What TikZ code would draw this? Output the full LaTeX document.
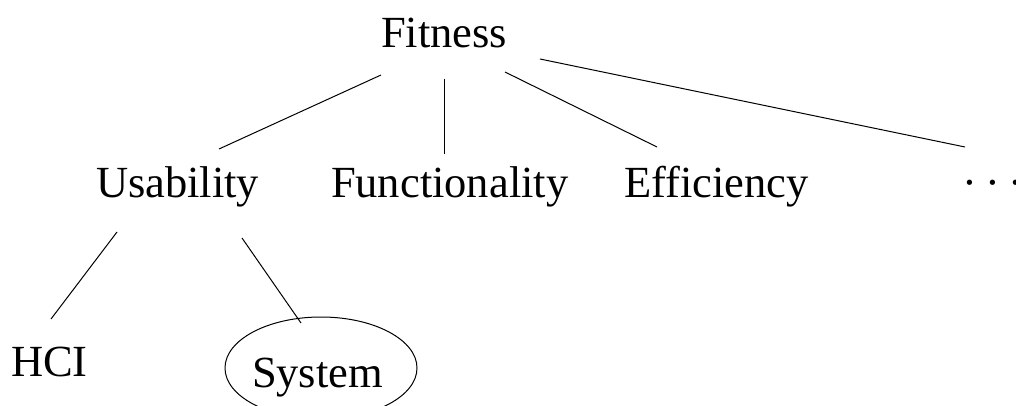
\documentclass[tikz,border=0pt]{standalone}
\usepackage{fontspec}
\setmainfont{Liberation Serif}
\begin{document}
\begin{tikzpicture}[x=1pt,y=-1pt,
    lbl/.style={inner sep=0pt,outer sep=0pt,anchor=base west,
      font=\fontsize{44.5}{53}\selectfont},
    branch/.style={line width=1pt,black}]
  \useasboundingbox (0,0) rectangle (1016,406);

  % tree labels
  \node[lbl] (fit)  at (381,48)  {Fitness};
  \node[lbl] (usa)  at (96,197)  {Usability};
  \node[lbl] (fun)  at (331,197) {Functionality};
  \node[lbl] (eff)  at (624,197) {Efficiency};
  \node[lbl] (more) at (962.5,197)
    {\rlap{·}\hspace{23pt}\rlap{·}\hspace{23pt}·};
  \node[lbl] (hci)  at (11,376)  {HCI};
  \node[lbl] (sys)  at (252,387) {System};

  % ring around the System label
  \draw[branch] (321,368) ellipse [x radius=96, y radius=51];

  % line end points
  \coordinate (fitA) at (381,75);  \coordinate (usaT) at (219,149);
  \coordinate (fitB) at (444,79);  \coordinate (funT) at (444,154);
  \coordinate (fitC) at (505,72);  \coordinate (effT) at (657,147);
  \coordinate (fitD) at (540,59);  \coordinate (moreT) at (965,147);
  \coordinate (usaA) at (117,232); \coordinate (hciT) at (51,319);
  \coordinate (usaB) at (242,238); \coordinate (sysT) at (301,323);

  \draw[branch] (fitA) -- (usaT);
  \draw[branch] (fitB) -- (funT);
  \draw[branch] (fitC) -- (effT);
  \draw[branch] (fitD) -- (moreT);
  \draw[branch] (usaA) -- (hciT);
  \draw[branch] (usaB) -- (sysT);
\end{tikzpicture}
\end{document}
